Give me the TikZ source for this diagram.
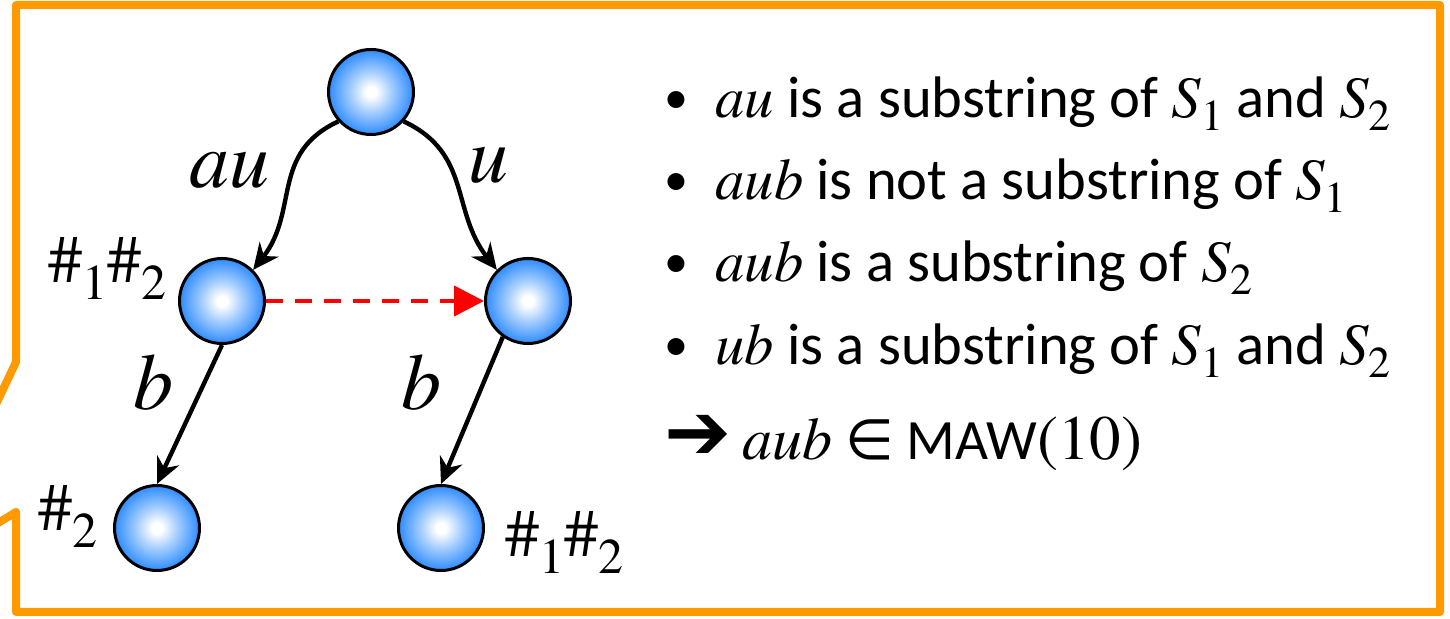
\documentclass[tikz,border=0pt]{standalone}
\usepackage{fontspec}
\IfFontExistsTF{texgyretermes-regular.otf}
  {\setmainfont{texgyretermes}[Extension=.otf, UprightFont=*-regular, ItalicFont=*-italic, BoldFont=*-bold, BoldItalicFont=*-bolditalic]}
  {\setmainfont{Liberation Serif}}
\newfontfamily\calibfont{Carlito}
\newfontfamily\djv{DejaVu Sans}
\usetikzlibrary{arrows.meta}
\definecolor{frameorange}{RGB}{255,153,0}
\definecolor{ballblue}{RGB}{55,145,255}
\pgfdeclareradialshading{myball}{\pgfpoint{0bp}{0bp}}{color(0bp)=(white); color(3bp)=(white); color(12bp)=(ballblue!45); color(24bp)=(ballblue); color(50bp)=(ballblue)}
\newcommand\mi[1]{{\rmfamily\itshape #1}}
\newcommand\Ssub[1]{{\rmfamily\itshape S}\raisebox{-0.22em}{\rmfamily\upshape\fontsize{22}{22}\selectfont #1}}
\newcommand\hs[1]{\#\raisebox{-0.24em}{\fontsize{25}{25}\selectfont #1}}
\tikzset{
  ballnode/.style={circle, draw=black, line width=1.5pt, minimum size=42.5pt, inner sep=0pt, shading=myball},
  edgelab/.style={font=\rmfamily\itshape\fontsize{40}{40}\selectfont, inner sep=0pt, anchor=base},
  hashlab/.style={font=\rmfamily\upshape\fontsize{34}{34}\selectfont, inner sep=0pt},
  txt/.style={anchor=base west, inner sep=0pt, font=\calibfont\fontsize{29.3}{34}\selectfont},
  bul/.style={anchor=base west, inner sep=0pt, font=\calibfont\fontsize{24}{24}\selectfont},
  treearrow/.style={line width=2.2pt, -{Stealth[length=13pt,width=12pt]}},
  linkarrow/.style={red, line width=2.2pt, dash pattern=on 8.5pt off 6pt, -{Triangle[length=15pt,width=15pt]}}
}
\begin{document}
\begin{tikzpicture}[x=0.5pt,y=0.5pt]
\useasboundingbox[fill=white] (0,0) rectangle (1450,619);
% callout frame
\draw[frameorange, line width=4pt, line join=round]
  (-10,202) -- (16,257) -- (16,614) -- (1440,614) -- (1440,7) -- (16,7) -- (16,107) -- (-10,91);
% nodes
\node[ballnode] (top) at (371,527) {};
\node[ballnode] (ml) at (222,318) {};
\node[ballnode] (mr) at (528,318) {};
\node[ballnode] (bl) at (157,91) {};
\node[ballnode] (br) at (441,91) {};
% edges
\draw[treearrow] (top.222) .. controls +(205:75) and +(52:75) .. (ml.45);
\draw[treearrow] (top.-42) .. controls +(-25:75) and +(128:75) .. (mr.135);
\draw[treearrow] (ml.south) -- (bl.north);
\draw[treearrow] (mr.235) -- (br.north);
\draw[linkarrow] (ml.east) -- (mr.west);
% edge labels
\node[edgelab] (lau) at (229,431) {au};
\node[edgelab] (lu) at (488,436) {u};
\node[edgelab] (lbl) at (153,209) {b};
\node[edgelab] (lbr) at (421,209) {b};
% hash labels
\node[hashlab, anchor=base east] (hml) at (167,336) {\hs{1}\hs{2}};
\node[hashlab, anchor=base east] (hbl) at (98,88) {\hs{2}};
\node[hashlab, anchor=base west] (hbr) at (505,62) {\hs{1}\hs{2}};
% text
\node[bul] (b1) at (664,505) {•};
\node[txt] (t1) at (715,501) {\mi{au} is a substring of \Ssub{1} and \Ssub{2}};
\node[bul] (b2) at (664,423) {•};
\node[txt] (t2) at (715,419) {\mi{aub} is not a substring of \Ssub{1}};
\node[bul] (b3) at (664,341) {•};
\node[txt] (t3) at (715,337) {\mi{aub} is a substring of \Ssub{2}};
\node[bul] (b4) at (664,258) {•};
\node[txt] (t4) at (715,254) {\mi{ub} is a substring of \Ssub{1} and \Ssub{2}};
\node[txt, font=\djv\fontsize{40}{40}\selectfont] (arr) at (664,159) {➔};
\node[txt, font=\calibfont\fontsize{28.5}{36}\selectfont] (t5) at (742,159) {{\fontsize{30}{36}\selectfont\mi{aub}} {\djv\fontsize{28}{30}\selectfont ∈} MAW{\rmfamily\upshape\fontsize{31.5}{36}\selectfont(10)}};
\end{tikzpicture}
\end{document}
